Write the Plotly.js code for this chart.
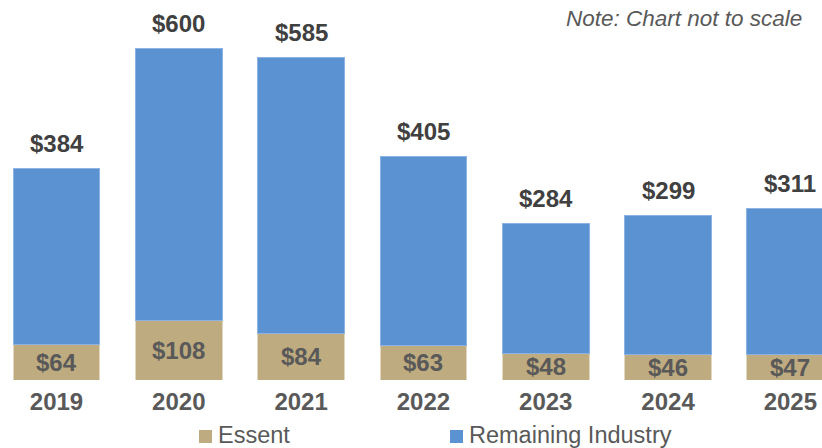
<!DOCTYPE html>
<html>
<head>
<meta charset="utf-8">
<script src="https://cdn.plot.ly/plotly-3.0.1.min.js"></script>
<style>html,body{margin:0;padding:0;background:#fff;}#chart{width:822px;height:448px;}</style>
</head>
<body>
<div id="chart"></div>
<script>
const years = ['2019','2020','2021','2022','2023','2024','2025'];
const essent = [64,108,84,63,48,46,47];
const remaining = [320,492,501,342,236,253,264];
const totals = [384,600,585,405,284,299,311];
const seriesNames = ['Essent','Remaining Industry'];

const tan = '#BFAB80';
const blue = '#5A92D2';
const gray = '#595959';
const font = 'Liberation Sans, Arial, sans-serif';
const idx = years.map((_,i)=>i);

const traces = [
  {type:'bar', name:seriesNames[0], x:idx, y:essent, marker:{color:tan, line:{color:'#e2d8c2', width:1}}, hoverinfo:'none'},
  {type:'bar', name:seriesNames[1], x:idx, y:remaining, marker:{color:blue, line:{color:'#8cb3e3', width:1}}, hoverinfo:'none'}
];

const H = 380; // plot height px
const annotations = [];
idx.forEach(i=>{
  annotations.push({x:i, y:totals[i], xref:'x', yref:'y', text:'$'+totals[i], showarrow:false, yanchor:'middle', yshift:25,
    font:{family:font, size:24, color:'#404040', weight:'bold'}});
  annotations.push({x:i, y:essent[i]/2, xref:'x', yref:'y', text:'$'+essent[i], showarrow:false, yanchor:'middle',
    font:{family:font, size:24, color:gray, weight:'bold'}});
});
annotations.push({xref:'paper', yref:'paper', x:804/822, y:1-18/H, xanchor:'right', yanchor:'middle',
  text:'<i>Note: Chart not to scale</i>', showarrow:false, font:{family:font, size:22.5, color:gray}});

// manual legend
const legendItems = [
  {name:seriesNames[0], color:tan, x0:199},
  {name:seriesNames[1], color:blue, x0:450}
];
const shapes = [];
legendItems.forEach(it=>{
  shapes.push({type:'rect', xref:'paper', yref:'paper', x0:it.x0/822, x1:(it.x0+13)/822,
    y0:1-443/H, y1:1-430/H, fillcolor:it.color, line:{width:0}});
  annotations.push({xref:'paper', yref:'paper', x:(it.x0+17)/822, y:1-435/H, xanchor:'left', yanchor:'middle',
    text:it.name, showarrow:false, font:{family:font, size:23.5, color:gray}});
});

const layout = {
  width:822, height:448,
  margin:{l:0, r:0, t:0, b:68},
  paper_bgcolor:'#fff', plot_bgcolor:'#fff',
  barmode:'stack', bargap:0.29,
  showlegend:false,
  xaxis:{range:[-0.462, 6.259], tickvals:idx, ticktext:years, showgrid:false, zeroline:false, showline:false, ticks:'',
    ticklabelstandoff:5, tickfont:{family:font, size:24, color:gray, weight:'bold'}, fixedrange:true},
  yaxis:{range:[0, 688.8], visible:false, showgrid:false, zeroline:false, fixedrange:true},
  annotations:annotations,
  shapes:shapes
};

Plotly.newPlot('chart', traces, layout, {displayModeBar:false, staticPlot:true});
</script>
</body>
</html>
